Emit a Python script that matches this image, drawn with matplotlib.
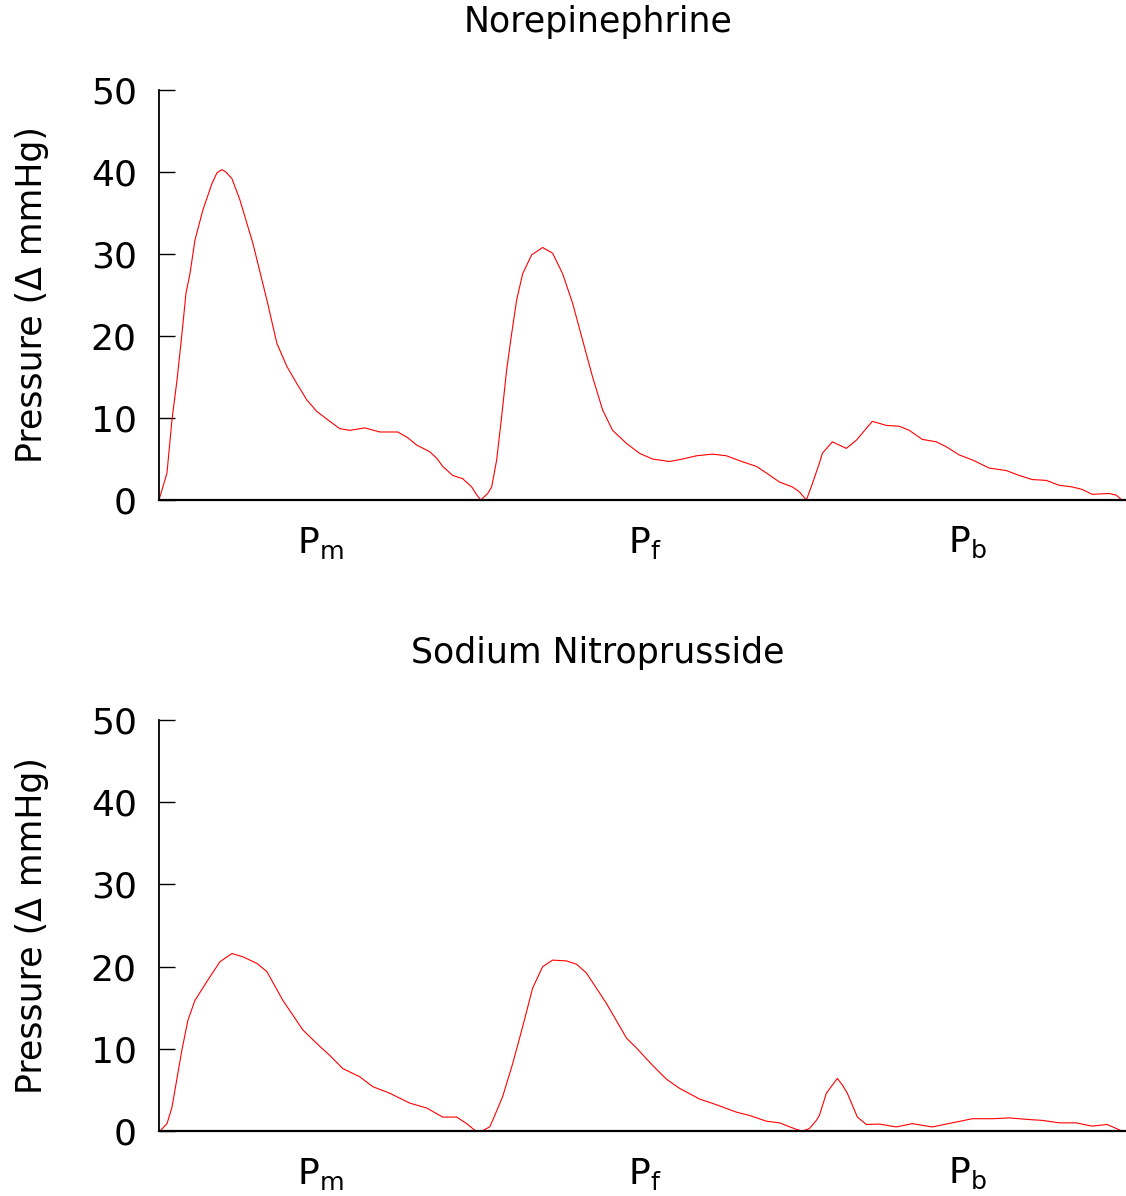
import matplotlib.pyplot as plt

# x positions are sample offsets along the recording, y is pressure change (mmHg)
phases = [r'$\mathrm{P_m}$', r'$\mathrm{P_f}$', r'$\mathrm{P_b}$']
phase_pos = [161, 486, 809]

ne_x = [0, 8, 13, 18, 23, 27, 31, 36, 44, 53, 58, 63, 67, 73, 81, 94, 108, 118, 128, 138,
        148, 158, 171, 181, 191, 206, 221, 239, 249, 258, 271, 278, 284, 294, 304, 313, 317, 322,
        329, 333, 338, 343, 348, 353, 358, 364, 373, 384, 394, 404, 414, 424, 434, 444, 454, 468,
        481, 494, 511, 524, 538, 554, 568, 581, 598, 608, 621, 634, 641, 648,
        654, 661, 664, 674, 688, 698, 714, 728, 741, 751, 764, 778, 788, 801, 814, 831, 848, 861,
        874, 888, 901, 914, 924, 934, 951, 958, 964]
ne_y = [0, 3.3, 9.8, 14.6, 20.3, 25.2, 27.6, 31.7, 35.4, 38.6, 39.9, 40.3, 40.0, 39.2, 36.6, 31.3,
        24.4, 19.1, 16.3, 14.2, 12.2, 10.8, 9.6, 8.7, 8.5, 8.8, 8.3, 8.3, 7.6, 6.7, 5.9, 5.1, 4.1,
        3.0, 2.6, 1.6, 0.8, 0,
        0.8, 1.6, 4.9, 10.2, 15.9, 20.3, 24.4, 27.6, 29.9, 30.8, 30.1, 27.6, 24.0, 19.5, 15.0, 11.0,
        8.5, 6.9, 5.7, 5.0, 4.7, 5.0, 5.4, 5.6, 5.4, 4.8, 4.1, 3.3, 2.2, 1.6, 1.0, 0,
        2.0, 4.5, 5.7, 7.1, 6.3, 7.3, 9.6, 9.1, 9.0, 8.5, 7.4, 7.1, 6.5, 5.5, 4.9, 3.9, 3.6, 3.0,
        2.5, 2.4, 1.8, 1.6, 1.3, 0.7, 0.8, 0.6, 0]

snp_x = [1, 8, 13, 23, 29, 36, 48, 61, 73, 84, 98, 108, 124, 144, 161, 171, 184, 201, 214, 231,
         251, 268, 284, 298, 308, 316, 323,
         331, 334, 344, 354, 364, 374, 384, 394, 408, 418, 428, 448, 468, 478, 494, 508, 521, 541,
         558, 578, 591, 608, 621, 638, 644,
         651, 658, 661, 668, 674, 679, 684, 689, 699, 708, 721, 738, 754, 774, 798, 814, 834, 851,
         871, 884, 901, 918, 934, 949, 964]
snp_y = [0, 0.9, 2.9, 9.9, 13.5, 15.9, 18.2, 20.6, 21.6, 21.2, 20.4, 19.4, 15.9, 12.3, 10.3, 9.2,
         7.6, 6.6, 5.4, 4.6, 3.4, 2.8, 1.7, 1.7, 0.9, 0.1, 0,
         0.5, 1.3, 4.2, 8.2, 12.7, 17.4, 20.0, 20.8, 20.7, 20.3, 19.2, 15.5, 11.3, 10.1, 8.0, 6.3,
         5.2, 3.9, 3.2, 2.3, 1.9, 1.2, 1.0, 0.2, 0,
         0.3, 1.3, 1.9, 4.6, 5.6, 6.4, 5.6, 4.6, 1.7, 0.8, 0.85, 0.5, 0.9, 0.5, 1.1, 1.5, 1.5, 1.6,
         1.4, 1.3, 1.0, 1.0, 0.6, 0.8, 0]

panels = [('Norepinephrine', ne_x, ne_y), ('Sodium Nitroprusside', snp_x, snp_y)]

fig = plt.figure(figsize=(11.26, 11.96), dpi=100)
boxes = [[0.1412, 0.5819, 0.8580, 0.3428], [0.1412, 0.0543, 0.8580, 0.3436]]
title_y = [1 - 22 / 1196, 1 - 653 / 1196]

for (title, x, y), box, ty in zip(panels, boxes, title_y):
    ax = fig.add_axes(box)
    ax.plot(x, y, color='red', linewidth=0.8, solid_joinstyle='round')
    ax.set_xlim(0, 967)
    ax.set_ylim(0, 50)
    ax.set_yticks([0, 10, 20, 30, 40, 50])
    ax.set_xticks(phase_pos)
    ax.set_xticklabels(phases)
    ax.spines['top'].set_visible(False)
    ax.spines['right'].set_visible(False)
    ax.spines['left'].set_linewidth(1.3)
    ax.spines['bottom'].set_linewidth(1.6)
    ax.tick_params(axis='y', direction='in', length=11.5, width=1, labelsize=26, pad=16)
    ax.tick_params(axis='x', length=0, labelsize=26, pad=18)
    ax.set_ylabel('Pressure (Δ mmHg)', fontsize=25, labelpad=30)
    fig.text(0.531, ty, title, ha='center', va='center', fontsize=25)

fig.savefig('out.png', dpi=100)
